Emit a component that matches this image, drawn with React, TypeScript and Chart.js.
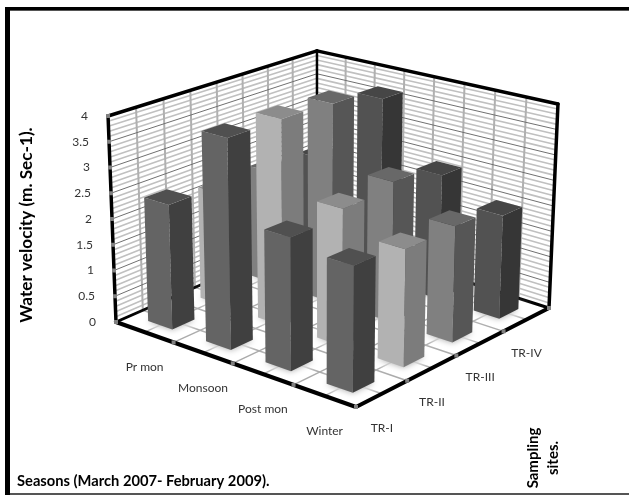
import React, { useEffect, useRef } from "react";
import { Chart, registerables } from "chart.js";
Chart.register(...registerables);

const seasons = ["Pr mon", "Monsoon", "Post mon", "Winter"];
const sites = ["TR-I", "TR-II", "TR-III", "TR-IV"];
const trI = [2.4, 4.0, 2.47, 2.3];
const trII = [2.2, 4.0, 2.6, 2.18];
const trIII = [2.25, 3.95, 2.72, 2.2];
const trIV = [2.15, 3.7, 2.46, 2.0];
const yTicks = [0, 0.5, 1, 1.5, 2, 2.5, 3, 3.5, 4];

const faceColors = [
  { left: "#646464", right: "#404040", top: "#505050" },
  { left: "#b2b2b2", right: "#7c7c7c", top: "#8c8c8c" },
  { left: "#808080", right: "#565656", top: "#686868" },
  { left: "#525252", right: "#363636", top: "#464646" },
];

const FONT = "Lato, 'Open Sans', sans-serif";
const floor = { L: [116, 322], F: [356, 407], R: [549, 308], B: [317, 234] };
const heights = { L: 207, F: 225, R: 205, B: 184 };
const vanish = [318, 5560];
const barFill = 0.42;

function makeProjector(chart: any) {
  const [x0, y0] = floor.L, [x1, y1] = floor.F, [x2, y2] = floor.R, [x3, y3] = floor.B;
  const dx1 = x1 - x2, dx2 = x3 - x2, sx = x0 - x1 + x2 - x3;
  const dy1 = y1 - y2, dy2 = y3 - y2, sy = y0 - y1 + y2 - y3;
  const den = dx1 * dy2 - dx2 * dy1;
  const g = (sx * dy2 - dx2 * sy) / den, h = (dx1 * sy - sx * dy1) / den;
  const a = x1 - x0 + g * x1, b = x3 - x0 + h * x3;
  const d = y1 - y0 + g * y1, e = y3 - y0 + h * y3;
  const yScale = chart.scales.y;
  return (s: number, t: number, val = 0): [number, number] => {
    const w = g * s + h * t + 1;
    const px = (a * s + b * t + x0) / w, py = (d * s + e * t + y0) / w;
    const at4 = (1 - s) * (1 - t) * heights.L + s * (1 - t) * heights.F + s * t * heights.R + (1 - s) * t * heights.B;
    const hp = (yScale.getPixelForValue(0) - yScale.getPixelForValue(val)) * (at4 / heights.L);
    return [px + ((px - vanish[0]) * hp) / (vanish[1] - py), py - hp];
  };
}

function poly(ctx: CanvasRenderingContext2D, pts: [number, number][]) {
  ctx.beginPath();
  pts.forEach((p, i) => (i ? ctx.lineTo(p[0], p[1]) : ctx.moveTo(p[0], p[1])));
  ctx.closePath();
}
function seg(ctx: CanvasRenderingContext2D, p: [number, number], q: [number, number], color: string, w: number) {
  ctx.strokeStyle = color;
  ctx.lineWidth = w;
  ctx.lineCap = "round";
  ctx.beginPath();
  ctx.moveTo(p[0], p[1]);
  ctx.lineTo(q[0], q[1]);
  ctx.stroke();
}
function text(ctx: CanvasRenderingContext2D, s: string, x: number, y: number, font: string, color: string, rot = 0, align: CanvasTextAlign = "center") {
  ctx.save();
  ctx.translate(x, y);
  ctx.rotate(rot);
  ctx.font = font;
  ctx.fillStyle = color;
  ctx.textAlign = align;
  ctx.textBaseline = "middle";
  ctx.fillText(s, 0, 0);
  ctx.restore();
}

const scene3d = {
  id: "scene3d",
  beforeDatasetsDraw(chart: any) {
    const ctx: CanvasRenderingContext2D = chart.ctx;
    const P = makeProjector(chart);
    ctx.save();
    ctx.fillStyle = "#ffffff";
    ctx.fillRect(0, 0, 629, 495);
    ctx.fillStyle = "#000000";
    ctx.fillRect(5, 7, 629, 3);
    ctx.fillRect(5, 7, 5, 488);
    ctx.fillStyle = "#555555";
    ctx.fillRect(10, 10, 619, 1);
    ctx.fillRect(10, 493, 619, 2);

    // floor grid
    for (let i = 0; i <= 8; i++) {
      seg(ctx, P(i / 8, 0), P(i / 8, 1), "#a8a8a8", 1.4);
      seg(ctx, P(0, i / 8), P(1, i / 8), "#a8a8a8", 1.4);
    }
    // wall grids
    for (let k = 0; k <= 40; k++) {
      const v = k / 10;
      if (k % 5 === 0) continue;
      seg(ctx, P(0, 0, v), P(0, 1, v), "#c0c0c0", 1.6);
      seg(ctx, P(0, 1, v), P(1, 1, v), "#c0c0c0", 1.6);
    }
    for (let i = 1; i < 8; i++) {
      seg(ctx, P(0, i / 8), P(0, i / 8, 4), "#b0b0b0", 2);
      seg(ctx, P(i / 8, 1), P(i / 8, 1, 4), "#b0b0b0", 2);
    }
    for (let k = 0; k <= 40; k += 5) {
      const v = k / 10;
      seg(ctx, P(0, 0, v), P(0, 1, v), "#707070", 1);
      seg(ctx, P(0, 1, v), P(1, 1, v), "#707070", 1);
    }
    // thick frame of the box
    seg(ctx, P(0, 0), P(0, 1), "#000000", 3);
    seg(ctx, P(0, 1), P(1, 1), "#000000", 3);
    seg(ctx, P(0, 1), P(0, 1, 4), "#000000", 2.5);
    seg(ctx, P(0, 0), P(0, 0, 4), "#000000", 3.5);
    seg(ctx, P(1, 1), P(1, 1, 4), "#000000", 3.5);
    seg(ctx, P(0, 0, 4), P(0, 1, 4), "#000000", 3.5);
    seg(ctx, P(0, 1, 4), P(1, 1, 4), "#000000", 3.5);

    // bars: back to front
    const half = barFill / 2 / 4;
    const sets = chart.data.datasets;
    for (let i = 0; i < seasons.length; i++) {
      for (let j = sites.length - 1; j >= 0; j--) {
        const v = sets[j].data[i];
        const sc = (i + 0.5) / 4, tc = (j + 0.5) / 4;
        const s0 = sc - half, s1 = sc + half, t0 = tc - half, t1 = tc + half;
        const colors = faceColors[j];
        ctx.save();
        ctx.filter = "blur(5px)";
        ctx.fillStyle = "#ffffff";
        const m = 0.025;
        poly(ctx, [P(s0 - m, t0 - m), P(s1 + m, t0 - m), P(s1 + m, t1 + m), P(s0 - m, t1 + m)]);
        ctx.fill();
        ctx.filter = "blur(3px)";
        ctx.fillStyle = "rgba(0,0,0,0.35)";
        poly(ctx, [P(s0, t0), P(s1, t0), P(s1, t1), P(s0, t1)]);
        ctx.fill();
        ctx.restore();
        ctx.fillStyle = colors.left;
        poly(ctx, [P(s0, t0), P(s1, t0), P(s1, t0, v), P(s0, t0, v)]);
        ctx.fill();
        ctx.fillStyle = colors.right;
        poly(ctx, [P(s1, t0), P(s1, t1), P(s1, t1, v), P(s1, t0, v)]);
        ctx.fill();
        ctx.fillStyle = colors.top;
        poly(ctx, [P(s0, t0, v), P(s1, t0, v), P(s1, t1, v), P(s0, t1, v)]);
        ctx.fill();
      }
    }

    // front floor edges, on top of bar shadows
    seg(ctx, P(0, 0), P(1, 0), "#000000", 4);
    seg(ctx, P(1, 0), P(1, 1), "#000000", 4);
    ctx.fillStyle = "#808080";
    for (let i = 0; i <= 4; i++) {
      const a = P(i / 4, 0), b = P(1, i / 4);
      ctx.fillRect(a[0] - 2, a[1] - 2, 4, 4);
      ctx.fillRect(b[0] - 2, b[1] - 2, 4, 4);
    }
    yTicks.forEach((t) => {
      const a = P(0, 0, t);
      ctx.fillRect(a[0] - 2, a[1] - 2, 4, 4);
    });

    // tick labels
    const tickFont = `12px ${FONT}`;
    yTicks.forEach((t) => {
      const a = P(0, 0, t);
      text(ctx, String(t), a[0] - 20, a[1], tickFont, "#333333", 0, "right");
    });
    seasons.forEach((lab, i) => {
      const a = P((i + 0.5) / 4, 0);
      text(ctx, lab, a[0], a[1] + 35, tickFont, "#333333");
    });
    sites.forEach((lab, i) => {
      const a = P(1, (i + 0.5) / 4);
      text(ctx, lab, a[0], a[1] + 34, tickFont, "#333333");
    });

    // titles
    text(ctx, "Water velocity (m. Sec-1).", 26, 225, `bold 17.2px ${FONT}`, "#000000", -Math.PI / 2);
    text(ctx, "Seasons (March 2007- February 2009).", 17, 481, `bold 14.7px ${FONT}`, "#000000", 0, "left");
    text(ctx, "Sampling", 533, 458, `bold 15px ${FONT}`, "#000000", -Math.PI / 2);
    text(ctx, "sites.", 553, 458, `bold 15px ${FONT}`, "#000000", -Math.PI / 2);
    ctx.restore();
    return false;
  },
};

export default function App() {
  const ref = useRef<HTMLCanvasElement>(null);
  useEffect(() => {
    document.body.style.margin = "0";
    const chart = new Chart(ref.current!, {
      type: "bar",
      data: {
        labels: seasons,
        datasets: [trI, trII, trIII, trIV].map((d, i) => ({ label: sites[i], data: d })),
      },
      options: {
        responsive: false,
        animation: false,
        layout: { padding: { top: 116, bottom: 173, left: 116, right: 80 } },
        plugins: { legend: { display: false }, tooltip: { enabled: false } },
        scales: {
          x: { display: false },
          y: { display: false, min: 0, max: 4 },
        },
      },
      plugins: [scene3d],
    });
    return () => chart.destroy();
  }, []);
  return <canvas ref={ref} width={629} height={495} style={{ display: "block" }} />;
}
